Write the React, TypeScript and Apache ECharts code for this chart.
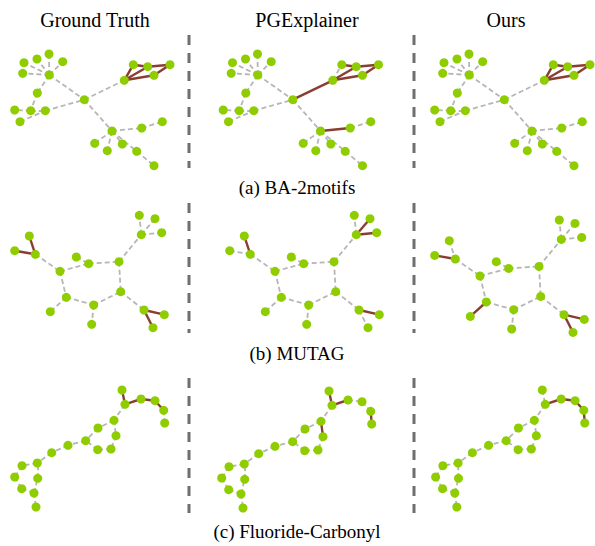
import React, { useEffect, useRef } from "react";
import * as echarts from "echarts";

// ---------- Titles / captions ----------
const columnTitles = ["Ground Truth", "PGExplainer", "Ours"];
const rowCaptions = ["(a) BA-2motifs", "(b) MUTAG", "(c) Fluoride-Carbonyl"];

// ---------- BA-2motifs graph (panel-local coordinates) ----------
const baNodes: [number, number][] = [
  [49.3, 45], [24, 32.7], [37, 29], [49, 24], [62.7, 31.7], [22.7, 43.3],
  [37.3, 63], [30.7, 80.7], [14.7, 80], [45.3, 80.7], [20, 91.7],
  [84.3, 69.7], [124.3, 50.3], [133.3, 34.7], [147.7, 36.7], [170, 34.7], [154, 45.3],
  [112, 101], [141.7, 98], [162.3, 91.7], [94.7, 113.3], [107.3, 120.7],
  [122.3, 114], [136.7, 121.3], [154, 135.7],
];
const baEdges: [number, number][] = [
  [0, 1], [0, 2], [0, 3], [0, 4], [0, 5], [0, 6], [6, 7], [7, 8], [7, 9],
  [10, 9], [9, 11], [0, 11], [11, 12], [12, 13], [12, 14], [12, 16], [13, 14],
  [14, 15], [15, 16], [11, 17], [17, 18], [18, 19], [17, 20], [17, 21],
  [17, 22], [17, 23], [23, 24],
];
const baGroundTruth: [number, number][] = [[12, 13], [12, 14], [12, 16], [13, 14], [14, 15], [15, 16]];
const baPGExplainer: [number, number][] = [[11, 12], [12, 14], [12, 16], [13, 14], [14, 15], [15, 16], [17, 18]];
const baOurs: [number, number][] = [[12, 13], [12, 14], [12, 16], [13, 14], [14, 15], [15, 16]];

// ---------- MUTAG graph ----------
const mutagNodes: [number, number][] = [
  [29.3, 36], [14.7, 50.7], [35.3, 54.3], [60, 71.3], [76.3, 57], [88.7, 63.7],
  [119, 61.7], [141.3, 34.7], [139.3, 15.3], [155, 18.7], [161.7, 32.7],
  [120.7, 91.7], [93.7, 105], [91.7, 124.3], [66.3, 97.3], [50.3, 111.7],
  [144, 110], [164.3, 114.7], [153, 127.7],
];
const mutagEdges: [number, number][] = [
  [0, 2], [1, 2], [2, 3], [3, 5], [4, 5], [5, 6], [6, 7], [7, 8], [7, 9], [7, 10],
  [6, 11], [3, 14], [14, 15], [14, 12], [12, 13], [12, 11], [11, 16], [16, 17], [16, 18],
];
const mutagGroundTruth: [number, number][] = [[0, 2], [1, 2], [16, 17], [16, 18]];
const mutagPGExplainer: [number, number][] = [[0, 2], [7, 9], [7, 10], [16, 17]];
const mutagOurs: [number, number][] = [[1, 2], [14, 15], [16, 17], [16, 18]];

// ---------- Fluoride-Carbonyl graph ----------
const fluorideNodes: [number, number][] = [
  [122, 15], [125, 29.3], [141, 24], [155, 25.7], [163.7, 35.3], [164.7, 48],
  [114, 45.3], [98, 53], [116, 60.7], [111, 74], [97.7, 74.7], [85.7, 65.7],
  [68, 70.3], [51.7, 77.7], [37.3, 88], [22, 90.7], [14.7, 102], [21.7, 113.7],
  [34, 118], [37.7, 103.3], [36, 132],
];
const fluorideEdges: [number, number][] = [
  [0, 1], [1, 2], [2, 3], [3, 4], [4, 5], [1, 6], [6, 7], [6, 8], [8, 9], [9, 10],
  [10, 11], [7, 11], [11, 12], [12, 13], [13, 14], [14, 15], [15, 16], [16, 17],
  [17, 18], [18, 19], [19, 14], [18, 20],
];
const fluorideGroundTruth: [number, number][] = [[0, 1], [1, 2], [2, 3], [3, 4]];
const fluoridePGExplainer: [number, number][] = [[0, 1], [1, 2], [6, 8], [4, 5]];
const fluorideOurs: [number, number][] = [[1, 2], [2, 3], [3, 4], [4, 5]];

// ---------- Layout ----------
const PANEL_W = 175;
const PANEL_H = 145;
const rows = [
  { nodes: baNodes, edges: baEdges, marks: [baGroundTruth, baPGExplainer, baOurs], top: 30, lefts: [0, 208.5, 420], dys: [0, 0, 0], captionY: 187, divider: [35, 168] },
  { nodes: mutagNodes, edges: mutagEdges, marks: [mutagGroundTruth, mutagPGExplainer, mutagOurs], top: 200, lefts: [0, 215, 420], dys: [0, 0, 4.7], captionY: 353, divider: [203, 333] },
  { nodes: fluorideNodes, edges: fluorideEdges, marks: [fluorideGroundTruth, fluoridePGExplainer, fluorideOurs], top: 375, lefts: [0, 207, 421], dys: [0, 1, 0], captionY: 531, divider: [378, 513] },
];
const titleXs = [95, 307, 506];
const dividerXs = [189, 414];

const NODE_COLOR = "#8fcd00";
const BROWN = "#8a3e32";
const GREY = "#b6b6b6";
const SERIF = "'Liberation Serif', 'Times New Roman', serif";

function isMarked(list: [number, number][], s: number, t: number) {
  return list.some(([a, b]) => (a === s && b === t) || (a === t && b === s));
}

export default function App() {
  const ref = useRef<HTMLDivElement>(null);
  useEffect(() => {
    if (!ref.current) return;
    const chart = echarts.init(ref.current, undefined, { renderer: "svg" });
    const grid: any[] = [];
    const xAxis: any[] = [];
    const yAxis: any[] = [];
    const series: any[] = [];
    let k = 0;
    rows.forEach((row) => {
      for (let c = 0; c < 3; c++) {
        grid.push({ left: row.lefts[c], top: row.top + row.dys[c], width: PANEL_W, height: PANEL_H, containLabel: false });
        xAxis.push({ type: "value", gridIndex: k, min: 0, max: PANEL_W, show: false });
        yAxis.push({ type: "value", gridIndex: k, min: 0, max: PANEL_H, inverse: true, show: false });
        const marks = row.marks[c];
        series.push({
          type: "graph",
          coordinateSystem: "cartesian2d",
          xAxisIndex: k,
          yAxisIndex: k,
          symbol: "circle",
          symbolSize: 9,
          itemStyle: { color: NODE_COLOR },
          label: { show: false },
          emphasis: { disabled: true },
          silent: true,
          data: row.nodes.map((p) => ({ value: p })),
          links: row.edges.map(([s, t]) => {
            const m = isMarked(marks, s, t);
            return {
              source: s,
              target: t,
              lineStyle: m
                ? { color: BROWN, width: 2.4, type: "solid", opacity: 1 }
                : { color: GREY, width: 1.8, type: [5, 3], opacity: 1 },
            };
          }),
        });
        k++;
      }
    });

    const graphic: any[] = [];
    columnTitles.forEach((t, i) => {
      graphic.push({
        type: "text",
        x: titleXs[i],
        y: 20,
        style: { text: t, fontFamily: SERIF, fontSize: 20, fill: "#000", align: "center", verticalAlign: "middle" },
      });
    });
    rows.forEach((row, r) => {
      graphic.push({
        type: "text",
        x: 297,
        y: row.captionY,
        style: { text: rowCaptions[r], fontFamily: SERIF, fontSize: 19, fill: "#000", align: "center", verticalAlign: "middle" },
      });
      dividerXs.forEach((dx) => {
        graphic.push({
          type: "line",
          shape: { x1: dx, y1: row.divider[0], x2: dx, y2: row.divider[1] },
          style: { stroke: "#6f6f6f", lineWidth: 3, lineDash: [10, 8] },
        });
      });
    });

    chart.setOption({
      animation: false,
      backgroundColor: "#ffffff",
      grid,
      xAxis,
      yAxis,
      series,
      graphic,
    });
    return () => chart.dispose();
  }, []);
  return <div ref={ref} style={{ position: "absolute", left: 0, top: 0, width: 595, height: 546 }} />;
}
